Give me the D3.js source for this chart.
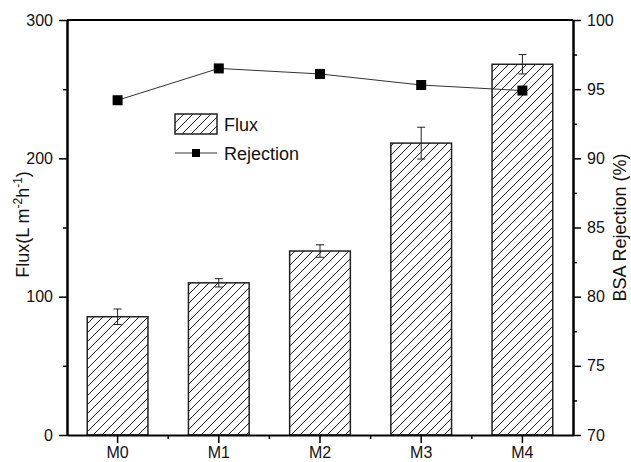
<!DOCTYPE html>
<html>
<head>
<meta charset="utf-8">
<script src="https://cdn.jsdelivr.net/npm/d3@7"></script>
<style>
  body { margin: 0; background: #fff; }
  text { font-family: "Liberation Sans", Arial, sans-serif; fill: #111; }
</style>
</head>
<body>
<div id="chart"></div>
<script>
// data
var samples = ["M0", "M1", "M2", "M3", "M4"]
var flux = [85.5, 110, 133, 211, 268]
var flux_err = [5.6, 3, 4.5, 11.5, 7]
var rejection = [94.2, 96.5, 96.1, 95.3, 94.9]
var flux_ticks = [0, 100, 200, 300]
var rej_ticks = [70, 75, 80, 85, 90, 95, 100]

const width = 631, height = 462
const margin = { top: 20, left: 67, right: 58, bottom: 27 }
const iw = width - margin.left - margin.right
const ih = height - margin.top - margin.bottom

const svg = d3.select("#chart").append("svg").attr("width", width).attr("height", height)

// hatch pattern for the bars
svg.append("defs").append("pattern")
    .attr("id", "hatch").attr("patternUnits", "userSpaceOnUse")
    .attr("width", 9).attr("height", 9)
    .append("path")
    .attr("d", "M-2,11 L11,-2 M-2,2 L2,-2 M7,11 L11,7")
    .attr("stroke", "#222").attr("stroke-width", 1)

const g = svg.append("g").attr("transform", `translate(${margin.left},${margin.top})`)

const x = d3.scaleBand().domain(samples).range([0, iw]).paddingInner(0.4).paddingOuter(0.2)
const xc = d => x(d) + x.bandwidth() / 2
const y = d3.scaleLinear().domain([0, 300]).range([ih, 0])
const y2 = d3.scaleLinear().domain([70, 100]).range([ih, 0])

// bars
g.selectAll("rect.bar").data(samples).join("rect")
    .attr("class", "bar")
    .attr("x", d => x(d))
    .attr("y", (d, i) => y(flux[i]))
    .attr("width", x.bandwidth())
    .attr("height", (d, i) => ih - y(flux[i]))
    .attr("fill", "url(#hatch)")
    .attr("stroke", "#222").attr("stroke-width", 1.5)

// error bars
samples.forEach((d, i) => {
    let cx = xc(d)
    let top = y(flux[i] + flux_err[i]), bot = y(flux[i] - flux_err[i])
    g.append("line").attr("x1", cx).attr("x2", cx).attr("y1", top).attr("y2", bot)
        .attr("stroke", "#222").attr("stroke-width", 1)
    ;[top, bot].forEach(yy => {
        g.append("line").attr("x1", cx - 4).attr("x2", cx + 4).attr("y1", yy).attr("y2", yy)
            .attr("stroke", "#222").attr("stroke-width", 1)
    })
})

// rejection line
const line = d3.line().x((d, i) => xc(samples[i])).y(d => y2(d))
g.append("path").datum(rejection).attr("d", line)
    .attr("fill", "none").attr("stroke", "#333").attr("stroke-width", 1)
g.selectAll("rect.pt").data(rejection).join("rect")
    .attr("class", "pt")
    .attr("x", (d, i) => xc(samples[i]) - 5)
    .attr("y", d => y2(d) - 5)
    .attr("width", 10).attr("height", 10)
    .attr("fill", "#000")

// axes
function style_axis(sel) {
    sel.selectAll("path").attr("stroke", "#000").attr("stroke-width", 2)
    sel.selectAll("line").attr("stroke", "#000").attr("stroke-width", 1.5)
    sel.selectAll("text").style("font-size", "16px").attr("fill", "#111")
}

// left axis with minor ticks
const left = g.append("g")
left.call(d3.axisLeft(y).tickValues([50, 150, 250]).tickSize(4).tickFormat("").tickSizeOuter(0))
left.append("g").call(d3.axisLeft(y).tickValues(flux_ticks).tickSize(8).tickPadding(6).tickSizeOuter(0))
style_axis(left)

const right = g.append("g").attr("transform", `translate(${iw},0)`)
right.call(d3.axisRight(y2).tickValues([72.5, 77.5, 82.5, 87.5, 92.5, 97.5]).tickSize(4).tickFormat("").tickSizeOuter(0))
right.append("g").call(d3.axisRight(y2).tickValues(rej_ticks).tickSize(8).tickPadding(6).tickSizeOuter(0))
style_axis(right)

const bottom = g.append("g").attr("transform", `translate(0,${ih})`)
bottom.call(d3.axisBottom(x).tickSize(8).tickPadding(4).tickSizeOuter(0))
// minor ticks between categories
bottom.selectAll("line.minor").data(samples.slice(1)).join("line")
    .attr("class", "minor")
    .attr("x1", d => x(d) - x.step() * 0.2).attr("x2", d => x(d) - x.step() * 0.2)
    .attr("y1", 0).attr("y2", 4)
style_axis(bottom)

// top frame
g.append("line").attr("x1", 0).attr("x2", iw).attr("y1", 0).attr("y2", 0)
    .attr("stroke", "#000").attr("stroke-width", 2)

// axis titles
const lt = svg.append("text")
    .attr("transform", `translate(29,${margin.top + ih / 2 - 3}) rotate(-90)`)
    .attr("text-anchor", "middle").style("font-size", "18px")
lt.append("tspan").text("Flux(L m")
lt.append("tspan").text("-2").attr("dy", -7).style("font-size", "12px")
lt.append("tspan").text("h").attr("dy", 7)
lt.append("tspan").text("-1").attr("dy", -7).style("font-size", "12px")
lt.append("tspan").text(")").attr("dy", 7)

svg.append("text")
    .attr("transform", `translate(626,${margin.top + ih / 2}) rotate(-90)`)
    .attr("text-anchor", "middle").style("font-size", "18px")
    .text("BSA Rejection (%)")

// legend
const lg = svg.append("g").attr("transform", "translate(175,114)")
lg.append("rect").attr("x", 0).attr("y", 0).attr("width", 42).attr("height", 20)
    .attr("fill", "url(#hatch)").attr("stroke", "#222").attr("stroke-width", 1.5)
lg.append("text").attr("x", 49).attr("y", 17).style("font-size", "18px").text("Flux")
lg.append("line").attr("x1", 0).attr("x2", 42).attr("y1", 39).attr("y2", 39)
    .attr("stroke", "#333").attr("stroke-width", 1)
lg.append("rect").attr("x", 17).attr("y", 35).attr("width", 8).attr("height", 8).attr("fill", "#000")
lg.append("text").attr("x", 49).attr("y", 46).style("font-size", "18px").text("Rejection")
</script>
</body>
</html>
